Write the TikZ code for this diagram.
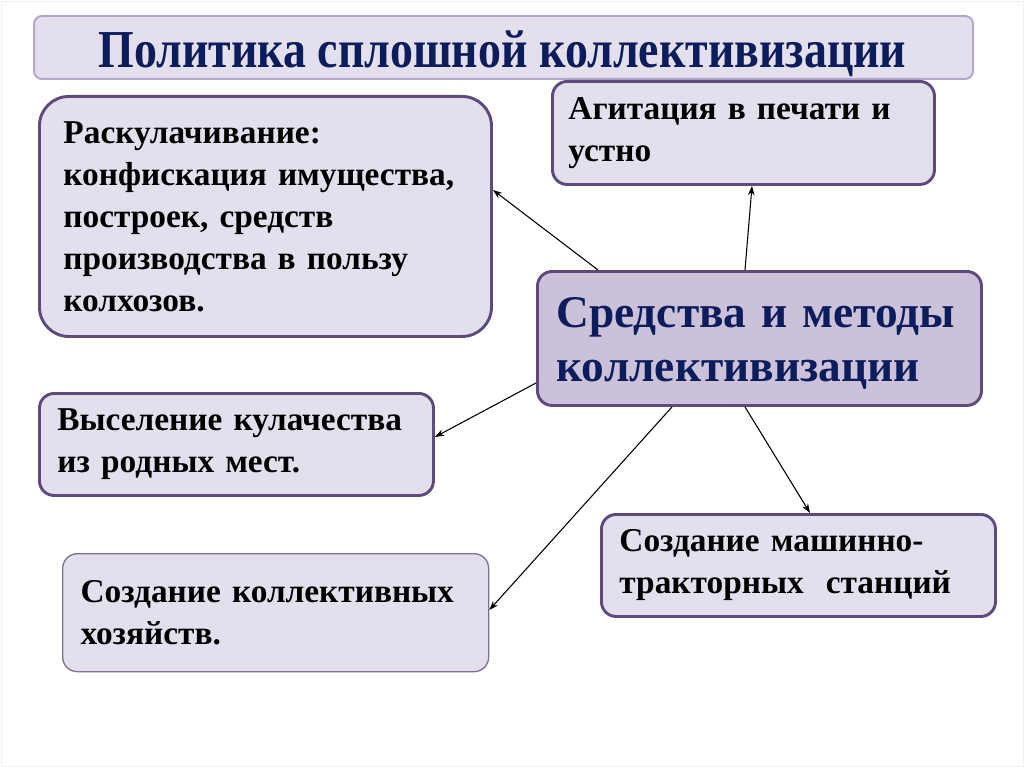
\documentclass[tikz,border=0pt]{standalone}
\usepackage{fontspec}
\setmainfont{Liberation Serif}
\newfontfamily\titlefont[FakeStretch=0.86]{Liberation Serif}
\usetikzlibrary{arrows.meta}
\definecolor{boxfill}{HTML}{E4DFEC}
\definecolor{centerfill}{HTML}{CCC1DA}
\definecolor{boxborder}{HTML}{5F4B7B}
\definecolor{titleborder}{HTML}{B4A7C8}
\definecolor{lightborder}{HTML}{7F7190}
\definecolor{navy}{HTML}{0D1C5A}
\begin{document}
\begin{tikzpicture}[x=0.75pt,y=-0.75pt,
  box/.style={draw=boxborder, line width=2.2pt, fill=boxfill, rounded corners=11pt,
    anchor=north west, align=left, inner ysep=2pt,
    font=\fontsize{25}{31.5}\selectfont\bfseries},
  arr/.style={-{Stealth[length=7pt,width=5pt]}, line width=0.8pt, black},
]
\fill[white] (0,0) rectangle (1024,767);
\draw[black!6, line width=0.6pt] (1,1) rectangle (1023,766);

\node[draw=titleborder, line width=1.5pt, fill=boxfill, rounded corners=6pt,
  anchor=north west, minimum width=704.25pt, minimum height=47.25pt, inner sep=0pt]
  (title) at (33,15) {};
\node[anchor=base, inner sep=0pt, text=navy,
  font=\titlefont\fontsize{40}{42}\selectfont\bfseries] (titletext) at (502.5,68)
  {Политика сплошной коллективизации};

\node[box, rounded corners=22pt, minimum width=339pt, minimum height=180pt,
  inner xsep=18pt, text width=303pt] (b1) at (38,95)
  {Раскулачивание:\\конфискация имущества,\\построек, средств\\производства в пользу\\колхозов.};

\node[box, minimum width=286.5pt, minimum height=77.25pt,
  inner xsep=12pt, text width=262.5pt] (b2) at (551,80)
  {Агитация в печати и\\устно};

\node[box, fill=centerfill, minimum width=333pt, minimum height=100.5pt,
  inner xsep=14.25pt, text width=304.5pt, text=navy,
  font=\fontsize{34}{40}\selectfont\bfseries] (c) at (536,270)
  {\rule{0pt}{30pt}Средства и методы\\коллективизации};

\node[box, minimum width=295.5pt, minimum height=76.5pt,
  inner xsep=13.5pt, text width=268.5pt] (b3) at (38,392)
  {Выселение кулачества\\из родных мест.};

\node[box, draw=lightborder, line width=1pt, minimum width=319.5pt, minimum height=88.5pt,
  inner xsep=13.5pt, text width=292.5pt] (b4) at (62,553)
  {Создание коллективных\\хозяйств.};

\node[box, minimum width=295.5pt, minimum height=76.5pt,
  inner xsep=13.5pt, text width=268.5pt] (b5) at (600,513)
  {Создание машинно-\\тракторных\ \ станций};

\draw[arr] (c.north -| 598,0) -- (b1.east |- 0,190);
\draw[arr] (c.north -| 745,0) -- (b2.south -| 752,0);
\draw[arr] (c.west |- 0,383) -- (b3.east |- 0,437);
\draw[arr] (c.south -| 672,0) -- (b4.east |- 0,610);
\draw[arr] (c.south -| 745,0) -- (b5.north -| 810,0);
\end{tikzpicture}
\end{document}
